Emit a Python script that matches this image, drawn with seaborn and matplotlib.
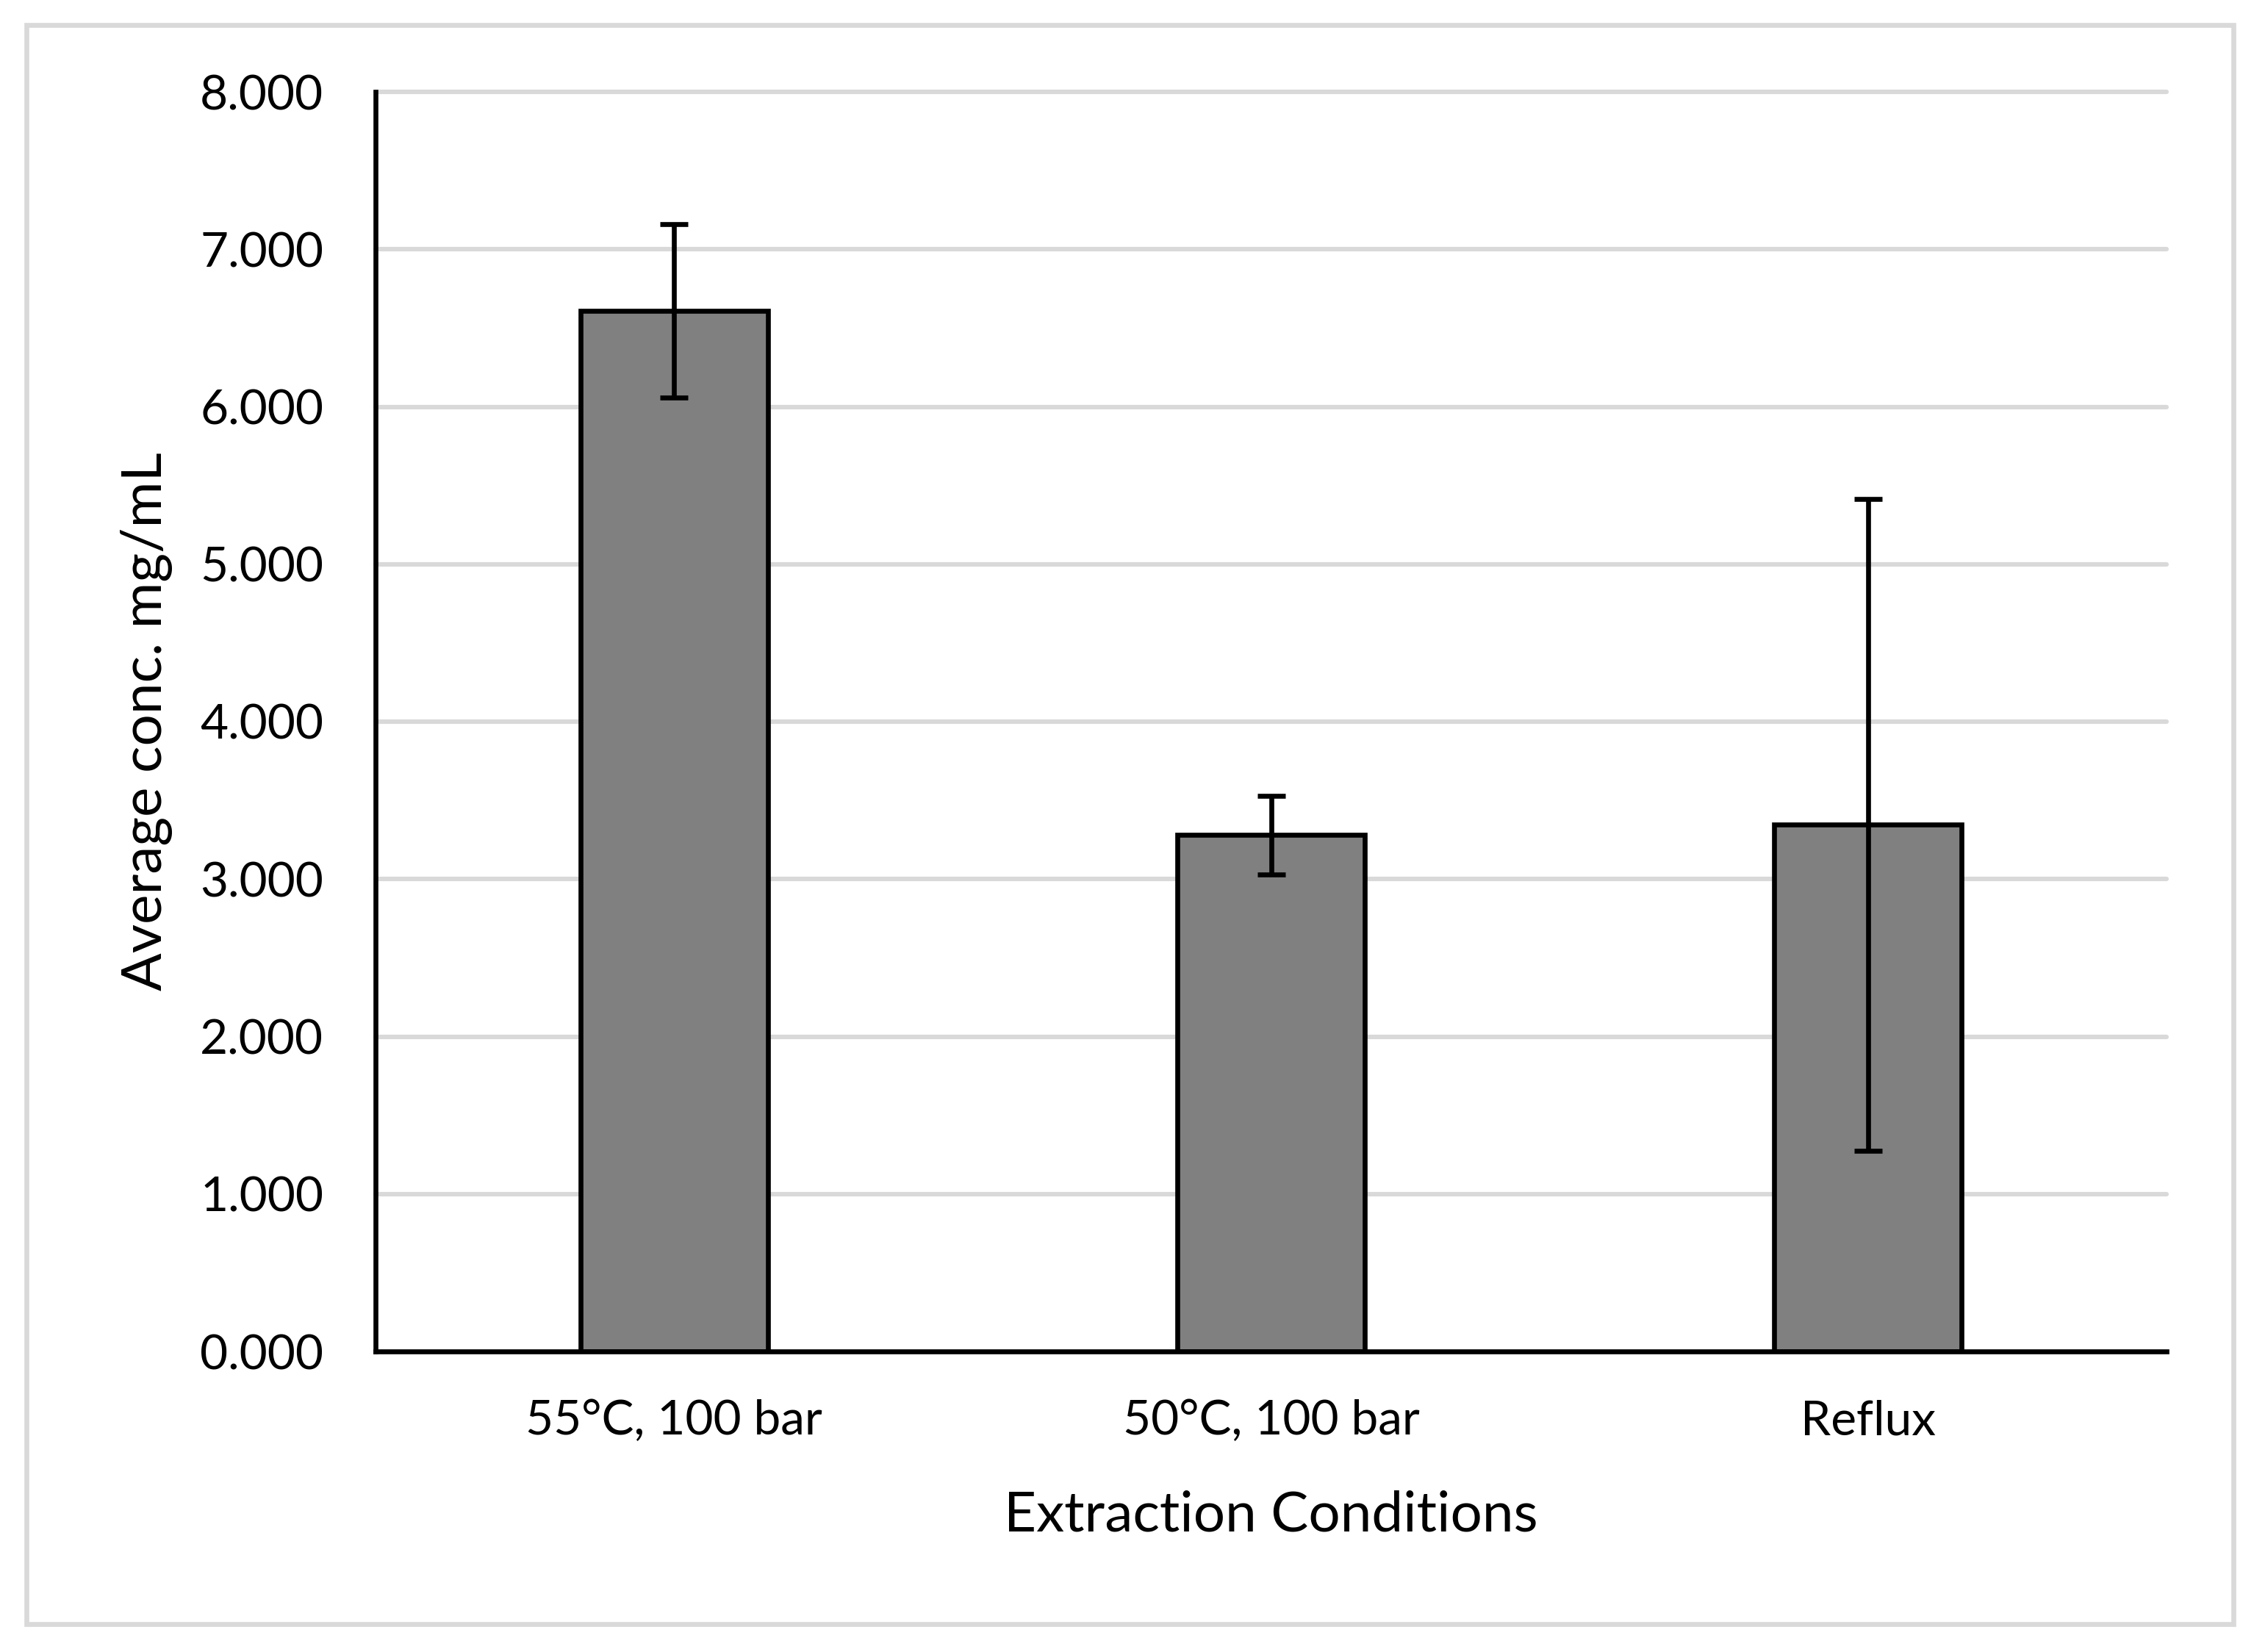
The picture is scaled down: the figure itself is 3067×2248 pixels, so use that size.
import numpy as np
import matplotlib
matplotlib.use("Agg")
import matplotlib.pyplot as plt
import seaborn as sns
from matplotlib.patches import Rectangle

# ---- data ----
categories = ["55°C, 100 bar", "50°C, 100 bar", "Reflux"]
values = [6.61, 3.28, 3.345]
errors = [0.55, 0.25, 2.07]
y_ticks = [0, 1, 2, 3, 4, 5, 6, 7, 8]
x_title = "Extraction Conditions"
y_title = "Average conc. mg/mL"

sns.set_theme(style="white")
plt.rcParams["font.family"] = ["Lato", "DejaVu Sans"]

W, H, DPI = 3067, 2248, 200
fig = plt.figure(figsize=(W / DPI, H / DPI), dpi=DPI)
fig.patch.set_facecolor("white")

ax_left, ax_right = 511 / W, 2948 / W
ax_bottom, ax_top = 1 - 1839 / H, 1 - 125 / H
ax = fig.add_axes([ax_left, ax_bottom, ax_right - ax_left, ax_top - ax_bottom])

sns.barplot(x=categories, y=values, color="#808080", saturation=1,
            width=0.314, edgecolor="black", linewidth=2.4,
            errorbar=None, ax=ax, zorder=3)
ax.errorbar(np.arange(len(categories)), values, yerr=errors, fmt="none",
            ecolor="black", elinewidth=2.4, capsize=7, capthick=2.4, zorder=5)

ax.set_ylim(0, 8)
ax.set_xlim(-0.5, len(categories) - 0.5)
ax.set_yticks(y_ticks)
ax.set_yticklabels([f"{t:.3f}" for t in y_ticks])
ax.yaxis.grid(True, color="#d9d9d9", linewidth=2.2)
ax.xaxis.grid(False)
ax.set_axisbelow(True)
for gl in ax.get_ygridlines():
    gl.set_clip_on(False)

for s in ["top", "right"]:
    ax.spines[s].set_visible(False)
for s in ["left", "bottom"]:
    ax.spines[s].set_visible(True)
    ax.spines[s].set_color("black")
    ax.spines[s].set_linewidth(2.4)
    ax.spines[s].set_zorder(6)

tick_fs = 23.7
ax.tick_params(axis="both", length=0, labelsize=tick_fs, labelcolor="black")
ax.tick_params(axis="x", pad=23.5)
ax.tick_params(axis="y", pad=25.5)

label_fs = 27.5
ax.set_xlabel(x_title, fontsize=label_fs, color="black", va="baseline")
ax.set_ylabel(y_title, fontsize=label_fs, color="black", va="baseline")
ax_w_px = 2948 - 511
ax_h_px = 1839 - 125
ax.xaxis.set_label_coords(0.5, (1839 - 2083) / ax_h_px)
ax.yaxis.set_label_coords((220 - 511) / ax_w_px, 0.5)

# outer chart border
x0, x1 = 36 / W, 3038.5 / W
y0, y1 = 1 - 2209.5 / H, 1 - 34 / H
fig.patches.append(Rectangle((x0, y0), x1 - x0, y1 - y0, transform=fig.transFigure,
                             fill=False, edgecolor="#d9d9d9", linewidth=2.4, zorder=0))

fig.savefig("out.png", dpi=DPI, facecolor="white")
